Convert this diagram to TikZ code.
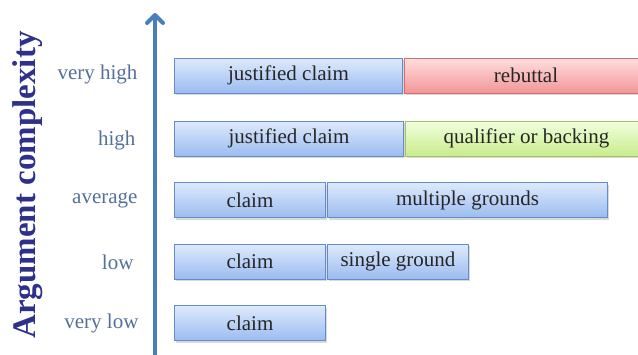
\documentclass[tikz,border=0pt]{standalone}
\usepackage{fontspec}
\setmainfont{Liberation Serif}
\usetikzlibrary{arrows.meta,shadows}
\definecolor{axisblue}{RGB}{74,126,187}
\definecolor{titleblue}{RGB}{46,48,140}
\definecolor{levelgray}{RGB}{84,112,152}
\definecolor{bluetop}{RGB}{222,234,252}
\definecolor{bluebot}{RGB}{155,188,240}
\definecolor{blueline}{RGB}{100,140,200}
\definecolor{redtop}{RGB}{255,222,222}
\definecolor{redbot}{RGB}{242,150,150}
\definecolor{redline}{RGB}{215,110,110}
\definecolor{greentop}{RGB}{242,255,222}
\definecolor{greenbot}{RGB}{200,236,140}
\definecolor{greenline}{RGB}{160,195,100}
\tikzset{
  bar/.style={anchor=west, minimum height=35pt, inner sep=0pt, line width=1pt,
    font=\fontsize{21}{21}\selectfont, text=black!85,
    drop shadow={shadow xshift=1pt, shadow yshift=-2pt, opacity=0.3, fill=gray}},
  bluebar/.style={bar, draw=blueline, top color=bluetop, bottom color=bluebot},
  redbar/.style={bar, draw=redline, top color=redtop, bottom color=redbot},
  greenbar/.style={bar, draw=greenline, top color=greentop, bottom color=greenbot},
  level/.style={anchor=east, text=levelgray, font=\fontsize{21}{21}\selectfont},
  axis/.style={line width=3.5pt, draw=axisblue,
    -{Straight Barb[length=8pt, width=16pt, line width=4pt, line cap=round, line join=round]}}
}
\begin{document}
\begin{tikzpicture}[x=1pt, y=-1pt]
  \useasboundingbox (0,0) rectangle (638,354);
  % vertical axis
  \coordinate (axbot) at (155,358);
  \coordinate (axtop) at (155,13);
  \draw[axis] (axbot) -- (axtop);
  \node[rotate=90, text=titleblue, font=\fontsize{33}{33}\selectfont\bfseries] (title) at (28,185) {Argument complexity};
  % levels
  \node[level] (lvh) at (141,74) {very high};
  \node[level] (lhi) at (139,140) {high};
  \node[level] (lav) at (141,200) {average};
  \node[level] (llo) at (137,262) {low};
  \node[level] (lvl) at (142,323) {very low};
  % bars
  \node[bluebar, minimum width=228pt] (vhclaim) at (174,75.5) {justified claim};
  \node[redbar, minimum width=243pt] (vhrebut) at (404,75.5) {rebuttal};
  \node[bluebar, minimum width=229pt] (hiclaim) at (174,138.5) {justified claim};
  \node[greenbar, minimum width=242pt] (hiqual) at (405,138.5) {qualifier or backing};
  \node[bluebar, minimum width=151pt] (avclaim) at (174,200) {claim};
  \node[bluebar, minimum width=280pt] (avgrounds) at (327,200) {multiple grounds};
  \node[bluebar, minimum width=151pt] (loclaim) at (174,261.5) {claim};
  \node[bluebar, minimum width=141pt] (loground) at (327,261.5) {single ground};
  \node[bluebar, minimum width=151pt] (vlclaim) at (174,323) {claim};
\end{tikzpicture}
\end{document}
